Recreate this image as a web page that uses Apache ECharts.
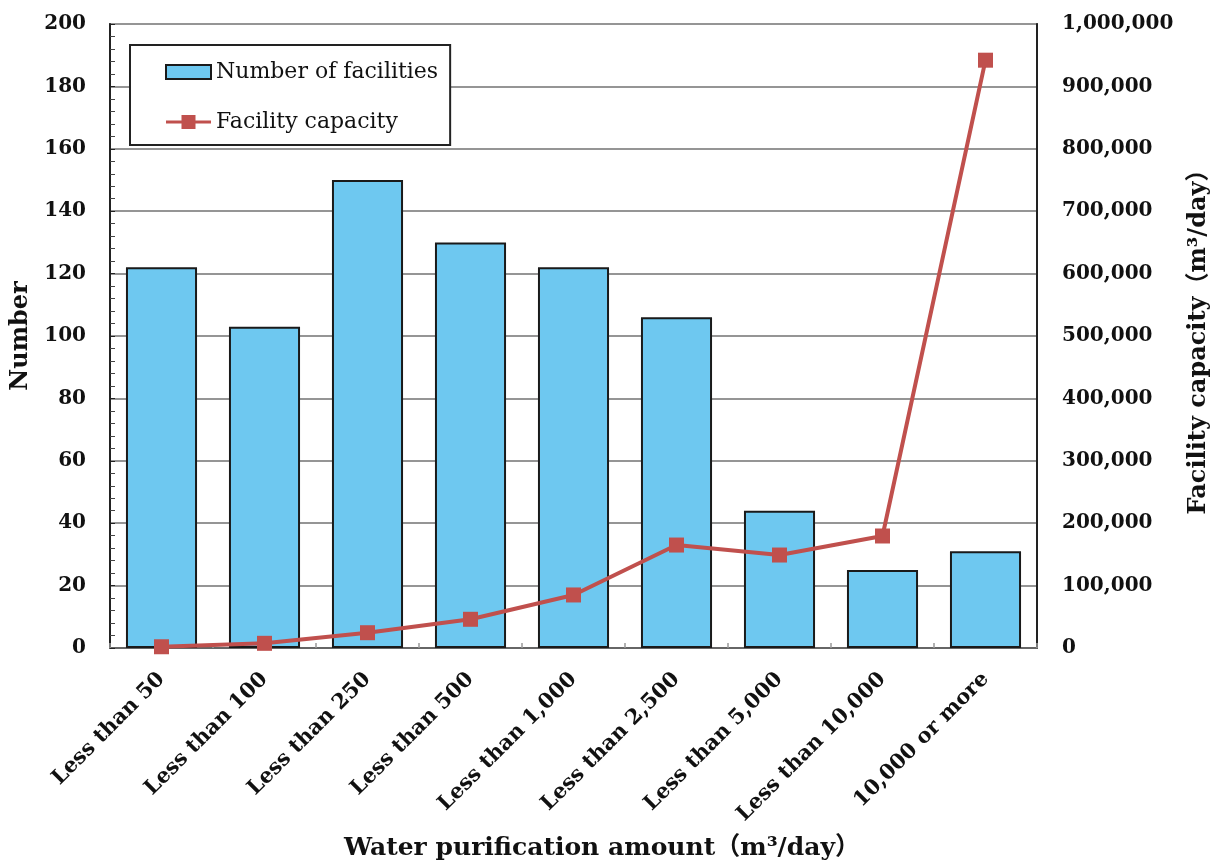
<!DOCTYPE html>
<html>
<head>
<meta charset="utf-8">
<script src="https://cdn.jsdelivr.net/npm/echarts@6/dist/echarts.min.js"></script>
<style>
html,body{margin:0;padding:0;background:#fff;}
#chart{width:1228px;height:864px;}
</style>
</head>
<body>
<div id="chart"></div>
<script>
var categories = ['Less than 50','Less than 100','Less than 250','Less than 500','Less than 1,000','Less than 2,500','Less than 5,000','Less than 10,000','10,000 or more'];
var facilityCounts = [122, 103, 150, 130, 122, 106, 44, 25, 31];
var facilityCapacity = [2000, 7500, 24500, 46000, 85000, 165000, 149000, 179500, 942000];
var leftTicks = {min: 0, max: 200, interval: 20};
var rightTicks = {min: 0, max: 1000000, interval: 100000};

var FONT = '"DejaVu Serif", "Liberation Serif", "Noto Sans CJK JP", serif';
var chart = echarts.init(document.getElementById('chart'));
var option = {
  backgroundColor: '#ffffff',
  animation: false,
  grid: {left: 110, right: 191, top: 24, bottom: 216, show: true, borderColor: '#222', borderWidth: 1.5, backgroundColor: 'transparent'},
  legend: {
    left: 130, top: 45,
    orient: 'vertical',
    backgroundColor: '#fff',
    borderColor: '#222', borderWidth: 2, borderRadius: 0,
    padding: [15, 12, 11, 35],
    itemWidth: 45, itemHeight: 14, itemGap: 26,
    textStyle: {fontFamily: FONT, fontSize: 22, color: '#111', lineHeight: 24},
    data: [
      {name: 'Number of facilities', icon: 'rect'},
      {name: 'Facility capacity', icon: 'path://M0,5.5 L45,5.5 L45,8.5 L0,8.5 Z M15.5,0 L29.5,0 L29.5,14 L15.5,14 Z', itemStyle: {color: '#C0504D', borderWidth: 0}}
    ]
  },
  xAxis: {
    type: 'category',
    data: categories,
    axisLine: {lineStyle: {color: '#666', width: 2}},
    axisTick: {show: true, inside: true, length: 5, lineStyle: {color: '#999', width: 1.5}},
    axisLabel: {interval: 0, rotate: 45, margin: 28, fontFamily: FONT, fontWeight: 'bold', fontSize: 21, color: '#111'},
    splitLine: {show: false}
  },
  yAxis: [{
    type: 'value',
    min: leftTicks.min, max: leftTicks.max, interval: leftTicks.interval,
    name: 'Number', nameLocation: 'middle', nameRotate: 90, nameGap: 77,
    nameTextStyle: {fontFamily: FONT, fontWeight: 'bold', fontSize: 24, color: '#111'},
    axisLine: {show: true, lineStyle: {color: '#222', width: 2}},
    axisTick: {show: true, inside: true, length: 5, lineStyle: {color: '#222'}},
    minorTick: {show: true, splitNumber: 5, length: 5, lineStyle: {color: '#444'}},
    axisLabel: {margin: 24, fontFamily: FONT, fontWeight: 'bold', fontSize: 20, color: '#111'},
    splitLine: {show: true, lineStyle: {color: '#959595', width: 1.8}}
  }, {
    type: 'value',
    min: rightTicks.min, max: rightTicks.max, interval: rightTicks.interval,
    name: 'Facility capacity（m³/day）', nameLocation: 'middle', nameRotate: 90, nameGap: 150,
    nameTextStyle: {fontFamily: FONT, fontWeight: 'bold', fontSize: 24, color: '#111'},
    axisLine: {show: true, lineStyle: {color: '#222', width: 2}},
    axisTick: {show: false},
    axisLabel: {margin: 25, fontFamily: FONT, fontWeight: 'bold', fontSize: 20, color: '#111',
      formatter: function (v) { return v.toLocaleString('en-US'); }},
    splitLine: {show: false}
  }],
  series: [{
    name: 'Number of facilities',
    type: 'bar',
    data: facilityCounts,
    barCategoryGap: '31%',
    itemStyle: {color: '#6EC8F0', borderColor: '#1a1a1a', borderWidth: 2}
  }, {
    name: 'Facility capacity',
    type: 'line',
    yAxisIndex: 1,
    data: facilityCapacity,
    symbol: 'rect', symbolSize: 15,
    z: 5,
    lineStyle: {color: '#C0504D', width: 4},
    itemStyle: {color: '#C0504D'}
  }],
  graphic: [{
    type: 'text',
    x: 602, y: 848,
    style: {
      text: 'Water purification amount（m³/day）',
      fontFamily: FONT, fontWeight: 'bold', fontSize: 25, fill: '#111',
      textAlign: 'center', textVerticalAlign: 'middle'
    }
  }]
};
chart.setOption(option);
</script>
</body>
</html>
